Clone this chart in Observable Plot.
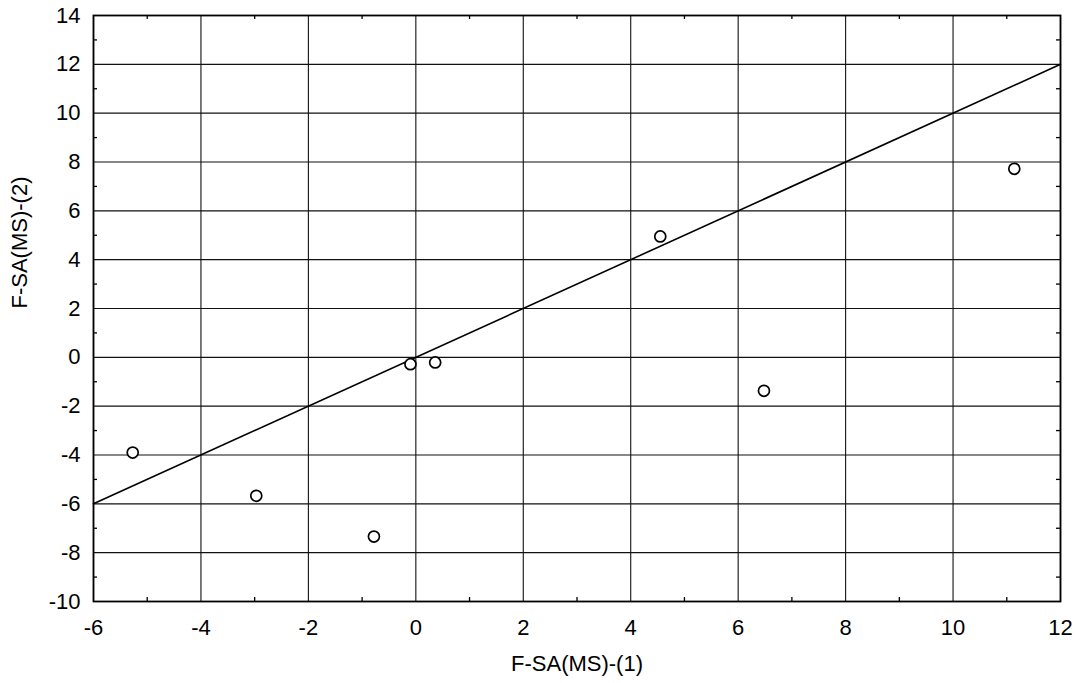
<!DOCTYPE html>
<html>
<head>
<meta charset="utf-8">
<script src="https://cdn.jsdelivr.net/npm/d3@7"></script>
<script src="https://cdn.jsdelivr.net/npm/@observablehq/plot@0.6"></script>
<style>
  html, body { margin: 0; padding: 0; background: #fff; }
  #chart svg { display: block; }
</style>
</head>
<body>
<div id="chart"></div>
<script>
// Data
const xValues = [-5.27, -2.97, -0.78, -0.10, 0.36, 4.55, 6.48, 11.14];
const yValues = [-3.90, -5.67, -7.34, -0.28, -0.21, 4.95, -1.37, 7.72];
const lineX = [-6, 12];
const lineY = [-6, 12];
const xTicks = [-6, -4, -2, 0, 2, 4, 6, 8, 10, 12];
const yTicks = [-10, -8, -6, -4, -2, 0, 2, 4, 6, 8, 10, 12, 14];
const xMinor = [-5, -3, -1, 1, 3, 5, 7, 9, 11];
const yMinor = [-9, -7, -5, -3, -1, 1, 3, 5, 7, 9, 11, 13];
const xLabel = "F-SA(MS)-(1)";
const yLabel = "F-SA(MS)-(2)";

const points = xValues.map((x, i) => ({x, y: yValues[i]}));
const diag = lineX.map((x, i) => ({x, y: lineY[i]}));

const W = 1081, H = 683;
const mL = 93, mR = 21, mT = 15, mB = 82;
const innerW = W - mL - mR, innerH = H - mT - mB;
const tickLen = 4;

const chart = Plot.plot({
  width: W,
  height: H,
  marginLeft: mL,
  marginRight: mR,
  marginTop: mT,
  marginBottom: mB,
  style: {fontFamily: "'Liberation Sans', Arial, Helvetica, sans-serif", background: "#fff", color: "#000"},
  x: {domain: [-6, 12]},
  y: {domain: [-10, 14]},
  marks: [
    Plot.gridX(xTicks, {stroke: "#111", strokeOpacity: 1, strokeWidth: 1.1}),
    Plot.gridY(yTicks, {stroke: "#111", strokeOpacity: 1, strokeWidth: 1.1}),
    // minor inward ticks on all four sides
    Plot.tickX(xMinor, {x: d => d, insetTop: innerH - tickLen, stroke: "#000", strokeWidth: 1.3}),
    Plot.tickX(xMinor, {x: d => d, insetBottom: innerH - tickLen, stroke: "#000", strokeWidth: 1.3}),
    Plot.tickY(yMinor, {y: d => d, insetRight: innerW - tickLen, stroke: "#000", strokeWidth: 1.3}),
    Plot.tickY(yMinor, {y: d => d, insetLeft: innerW - tickLen, stroke: "#000", strokeWidth: 1.3}),
    Plot.axisX(xTicks, {tickSize: 0, tickPadding: 18, fontSize: 22, tickFormat: d => String(d), label: null}),
    Plot.axisY(yTicks, {tickSize: 0, tickPadding: 13, fontSize: 22, tickFormat: d => String(d), label: null}),
    Plot.frame({stroke: "#000", strokeWidth: 1.8}),
    Plot.line(diag, {x: "x", y: "y", stroke: "#000", strokeWidth: 1.6}),
    Plot.dot(points, {x: "x", y: "y", r: 5.5, stroke: "#000", strokeWidth: 1.7, fill: "#fff"}),
    Plot.text([xLabel], {frameAnchor: "bottom", dy: 62, fontSize: 22, text: d => d, lineAnchor: "middle"}),
    Plot.text([yLabel], {frameAnchor: "left", dx: -74, rotate: -90, fontSize: 22, text: d => d, lineAnchor: "middle"})
  ]
});
document.getElementById("chart").appendChild(chart);
</script>
</body>
</html>
